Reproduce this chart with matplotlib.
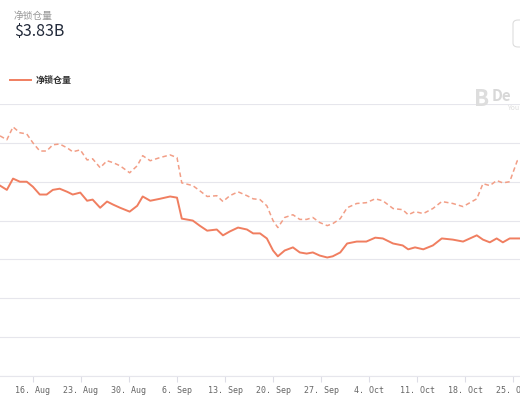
import matplotlib
matplotlib.use("Agg")
import matplotlib.pyplot as plt
import matplotlib.patches as patches

plt.rcParams['font.family'] = ['Noto Sans CJK SC', 'DejaVu Sans']

# days relative to 16 Aug
dias = [-4.8, -3.8, -2.9, -1.9, -0.9, 0, 1.0, 2.0, 2.9, 3.9, 5.0, 5.8, 6.9, 7.9, 8.7, 9.8,
        10.8, 11.7, 12.7, 14.1, 15.2, 16.0, 17.1, 18.5, 20.0, 21.0, 21.7, 23.3, 24.3, 25.4,
        26.8, 27.7, 28.7, 29.9, 31.2, 32.1, 33.1,
        34.1, 35.0, 35.7, 36.7, 37.9, 38.9, 39.9, 40.8, 41.8, 42.9, 43.7, 44.8, 45.8, 47.2,
        48.6, 49.9, 51.0, 52.5, 53.9, 54.7, 55.7, 56.9, 58.3, 59.6, 61.2, 62.7, 64.7, 65.6,
        66.6, 67.6, 68.5, 69.5, 70.6, 71.0]

solida = [4.90, 4.79, 5.08, 5.00, 5.00, 4.87, 4.67, 4.67, 4.79, 4.82, 4.74, 4.67, 4.72, 4.51,
          4.54, 4.33, 4.49, 4.41, 4.33, 4.23, 4.38, 4.62, 4.51, 4.56, 4.62, 4.59, 4.05, 4.00,
          3.87, 3.74, 3.77, 3.62, 3.72, 3.82, 3.77, 3.67, 3.67,
          3.54, 3.23, 3.08, 3.23, 3.31, 3.18, 3.15, 3.18, 3.10, 3.05, 3.08, 3.18, 3.41, 3.46,
          3.46, 3.56, 3.54, 3.41, 3.36, 3.26, 3.31, 3.26, 3.36, 3.54, 3.51, 3.46, 3.62, 3.51,
          3.44, 3.54, 3.44, 3.54, 3.54]

discontinua = [6.18, 6.08, 6.41, 6.26, 6.23, 6.00, 5.79, 5.79, 5.95, 5.97, 5.87, 5.77, 5.82,
               5.56, 5.59, 5.36, 5.54, 5.49, 5.41, 5.23, 5.41, 5.67, 5.54, 5.62, 5.69, 5.62,
               4.97, 4.90, 4.77, 4.62, 4.64, 4.49, 4.64, 4.74, 4.64, 4.56, 4.54,
               4.38, 4.00, 3.82, 4.08, 4.15, 4.03, 4.03, 4.08, 3.95, 3.87, 3.92, 4.05, 4.33,
               4.44, 4.46, 4.56, 4.51, 4.31, 4.28, 4.15, 4.23, 4.18, 4.31, 4.49, 4.44, 4.36,
               4.56, 4.95, 4.90, 5.03, 4.97, 5.00, 5.54, 5.56]

tick_dias = [0, 7, 14, 21, 28, 35, 42, 49, 56, 63, 70]
tick_labels = ['16. Aug', '23. Aug', '30. Aug', '6. Sep', '13. Sep', '20. Sep', '27. Sep',
               '4. Oct', '11. Oct', '18. Oct', '25. Oct']

fig = plt.figure(figsize=(5.2, 4), dpi=100)
ax = fig.add_axes([0, 0.06, 1, 0.68])
ax.plot(dias, discontinua, color='#f29e86', linestyle=(0, (3, 2)), linewidth=1.1)
solid_x = dias[:-2] + dias[-1:]
ax.plot(solid_x, solida, color='#f07e60', linewidth=1.4)
ax.set_xlim(-4.8, 71.0)
ax.set_ylim(0, 7)
ax.set_yticks(range(0, 8))
ax.set_yticklabels([])
ax.tick_params(axis='y', length=0)
ax.grid(axis='y', color='#e6e6ec', linewidth=0.8)
for s in ['top', 'right', 'left']:
    ax.spines[s].set_visible(False)
ax.spines['bottom'].set_color('#e6e6ec')
ax.set_xticks(tick_dias)
ax.set_xticklabels(tick_labels, family='DejaVu Sans Mono', fontsize=6, color='#666666')
ax.tick_params(axis='x', length=4, color='#dddde6', pad=3)

fig.text(14 / 520, 1 - 16 / 400, '净锁仓量', fontsize=7, color='#999999', va='center')
fig.text(14 / 520, 1 - 32 / 400, '$3.83B', fontsize=11.5, color='#222a3a', va='center')
fig.add_artist(plt.Line2D([10 / 520, 31 / 520], [1 - 80 / 400] * 2, color='#f07e60', linewidth=1.4))
fig.text(36 / 520, 1 - 80 / 400, '净锁仓量', fontsize=6.5, color='#333333', va='center', weight='bold')
fig.text(474 / 520, 1 - 100 / 400, 'B', fontsize=16, color='#dddddd', va='center', weight='bold')
fig.text(492 / 520, 1 - 96 / 400, 'De', fontsize=11, color='#d8d8d8', va='center', weight='bold')
fig.text(507 / 520, 1 - 108 / 400, 'You', fontsize=5, color='#dddddd', va='center')
fig.add_artist(patches.FancyBboxPatch((513 / 520, 1 - 47 / 400), 0.05, 27 / 400,
               boxstyle='round,pad=0,rounding_size=0.01', fc='white', ec='#dddddd', lw=0.8))

fig.savefig('out.png')
